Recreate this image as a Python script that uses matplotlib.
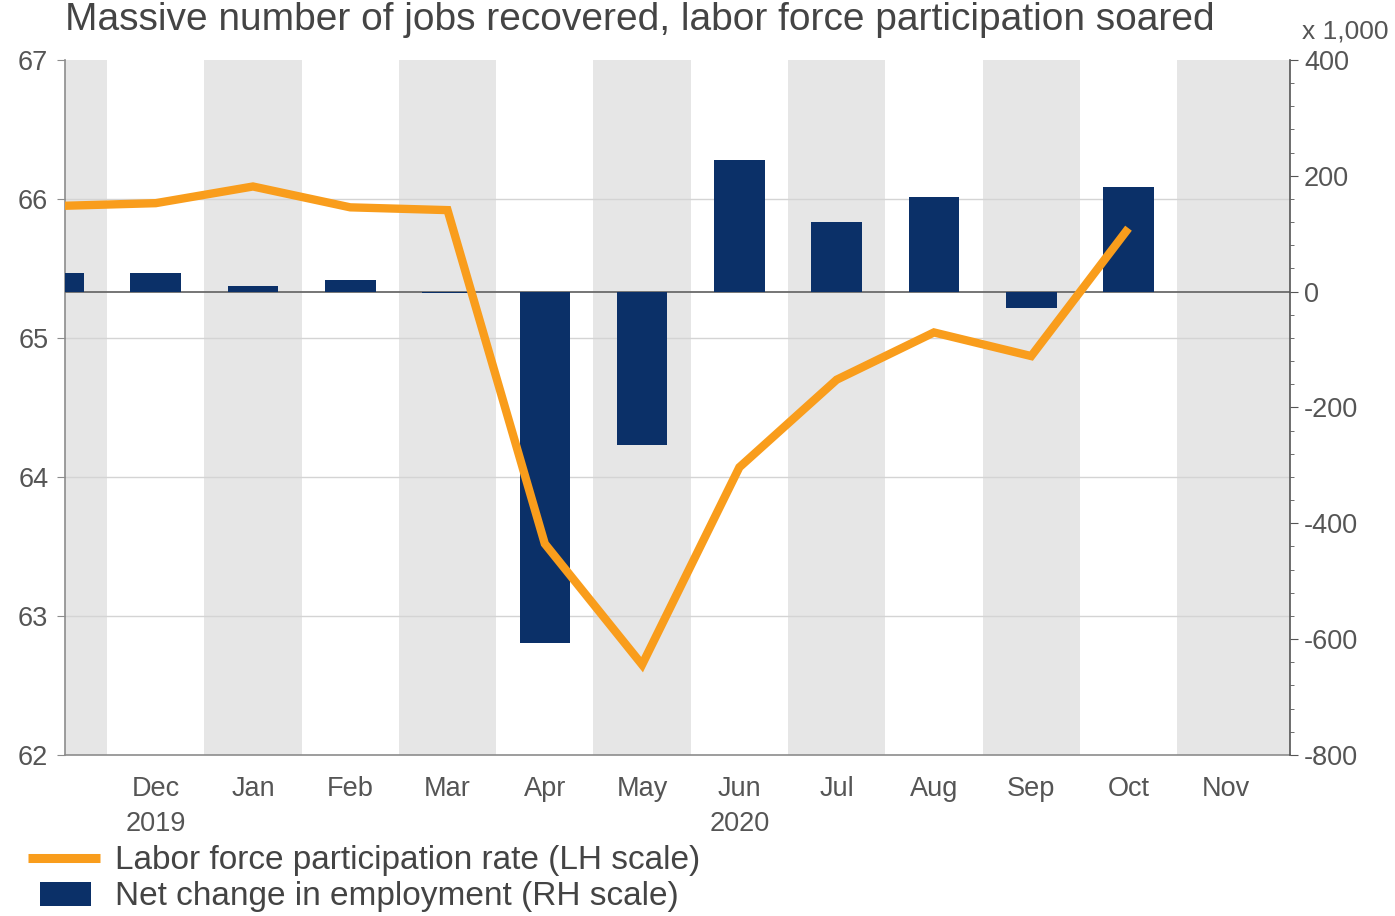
import matplotlib
matplotlib.use("Agg")
import matplotlib.pyplot as plt
from matplotlib.lines import Line2D
from matplotlib.patches import Rectangle
from matplotlib.ticker import MultipleLocator

plt.rcParams['font.family'] = ['Liberation Sans', 'DejaVu Sans']
plt.rcParams['axes.unicode_minus'] = False

# Monthly observations, Nov 2019 - Oct 2020
months = ["Nov 2019", "Dec 2019", "Jan 2020", "Feb 2020", "Mar 2020", "Apr 2020",
          "May 2020", "Jun 2020", "Jul 2020", "Aug 2020", "Sep 2020", "Oct 2020"]
participation_rate = [65.95, 65.97, 66.09, 65.94, 65.92, 63.52,
                      62.65, 64.07, 64.70, 65.04, 64.87, 65.79]
employment_change = [33, 33, 10, 21, -3, -606,
                     -264, 228, 121, 164, -28, 180]

# Labels along the time axis (Dec 2019 - Nov 2020)
month_labels = ["Dec\n2019", "Jan", "Feb", "Mar", "Apr", "May",
                "Jun\n2020", "Jul", "Aug", "Sep", "Oct", "Nov"]

ORANGE = "#F99D1C"
NAVY = "#0B3068"
BAND = "#E6E6E6"
TXT = "#555555"
AXC = "#8C8C8C"

x = list(range(len(months)))
label_pos = list(range(1, len(month_labels) + 1))
x_lo, x_hi = 0.068, 12.66

fig = plt.figure(figsize=(13.95, 9.16), dpi=100)
ax = fig.add_axes([65/1395, 1 - 755/916, (1290-65)/1395, (755-60)/916])
ax2 = ax.twinx()   # right scale: employment change
ax3 = ax.twinx()   # left scale again, so the line sits above the bars

# alternating month bands (grey for Nov, Jan, Mar, ...); the last runs to the edge
for k in range(0, 13, 2):
    right = x_hi if k == 12 else k + 0.5
    ax.axvspan(k - 0.5, right, color=BAND, lw=0, zorder=0)

ax.set_ylim(62, 67)
ax.set_yticks([62, 63, 64, 65, 66, 67])
for v in [63, 64, 65, 66]:
    ax.axhline(v, color="#D4D4D4", lw=1.0, zorder=1)

# employment bars
ax2.set_ylim(-800, 400)
ax2.axhline(0, color="#6A6A6A", lw=1.3, zorder=1)
ax2.bar(x, employment_change, width=0.52, color=NAVY, zorder=2)
ax2.set_yticks([-800, -600, -400, -200, 0, 200, 400])
ax2.yaxis.set_minor_locator(MultipleLocator(40))

# participation line
ax3.set_ylim(62, 67)
ax3.plot(x, participation_rate, color=ORANGE, lw=6, solid_joinstyle="miter",
         solid_capstyle="butt", zorder=3)
ax3.yaxis.set_visible(False)

for a in (ax, ax2, ax3):
    a.set_xlim(x_lo, x_hi)
    a.spines["top"].set_visible(False)
ax2.patch.set_visible(False)
ax3.patch.set_visible(False)

for s in ("left", "right", "bottom"):
    ax3.spines[s].set_visible(False)
ax2.spines["left"].set_visible(False)
ax2.spines["bottom"].set_visible(False)
ax.spines["right"].set_visible(False)

for s in ("left", "bottom"):
    ax.spines[s].set_color(AXC)
    ax.spines[s].set_linewidth(1.2)
ax2.spines["right"].set_color("#555555")
ax2.spines["right"].set_linewidth(1.2)

# x ticks: marks at month boundaries, names at month centres
ax.set_xticks([k + 0.5 for k in range(12)])
ax.set_xticklabels([])
ax.tick_params(axis="x", which="major", length=7, color=AXC, direction="out")
ax.set_xticks(label_pos, minor=True)
ax.set_xticklabels(month_labels, minor=True, fontsize=19.5, color=TXT,
                   linespacing=1.45, ha="center", va="top", multialignment="center")
ax.tick_params(axis="x", which="minor", length=0, pad=15)

ax.tick_params(axis="y", length=6, color=AXC, labelsize=19.5,
               labelcolor=TXT, pad=6)
ax2.tick_params(axis="y", which="major", length=6, color="#555555",
                labelsize=19.5, labelcolor=TXT, pad=4)
ax2.tick_params(axis="y", which="minor", length=3, color="#555555")
ax2.set_xticks([])
ax3.set_xticks([])

fig.text(65/1395, 1 - 20/916,
         "Massive number of jobs recovered, labor force participation soared",
         fontsize=28, color="#444444", ha="left", va="center")
fig.text(1302/1395, 1 - 31/916, "x 1,000", fontsize=19, color=TXT,
         ha="left", va="center")

# legend below the plot
W, H = 1395, 916
fig.add_artist(Line2D([28/W, 100/W], [1 - 858/H, 1 - 858/H], color=ORANGE,
                      lw=6.5, solid_capstyle="butt", transform=fig.transFigure))
fig.add_artist(Rectangle((40/W, 1 - 906/H), 51/W, 24/H, facecolor=NAVY,
                         edgecolor="none", transform=fig.transFigure))
fig.text(115/W, 1 - 860/H, "Labor force participation rate (LH scale)",
         fontsize=24, color="#444444", ha="left", va="center")
fig.text(115/W, 1 - 897/H, "Net change in employment (RH scale)",
         fontsize=24, color="#444444", ha="left", va="center")

fig.savefig("out.png", dpi=100, facecolor="white")
